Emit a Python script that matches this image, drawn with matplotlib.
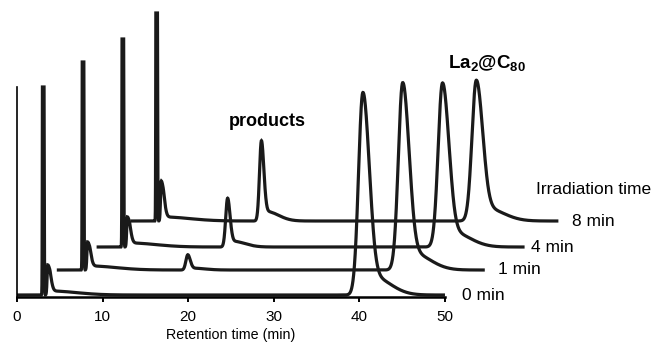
import numpy as np
import matplotlib
matplotlib.use("Agg")
import matplotlib.pyplot as plt

plt.rcParams['font.family'] = ['Liberation Sans', 'DejaVu Sans']
plt.rcParams['mathtext.fontset'] = 'custom'
plt.rcParams['mathtext.bf'] = 'Liberation Sans:bold'
plt.rcParams['mathtext.rm'] = 'Liberation Sans'

# ---- data ----
trace_labels = ['0 min', '1 min', '4 min', '8 min']
x_offsets = [0.0, 4.65, 9.3, 13.25]        # horizontal stagger (min)
y_offsets = [1.0, 13.5, 25.0, 38.0]        # vertical stagger (a.u.)
injection_time = 3.05                      # relative retention time (min)
injection_heights = [104, 104, 104, 104]   # off-scale (clipped) solvent peak
shoulder_time = 3.6
shoulder_heights = [15, 14, 15, 20]
product_time = 15.3
product_heights = [0, 7.5, 24, 39.5]
la_time = 40.4
la_heights = [100, 92.5, 81, 69.5]
run_length = 50.0
x_ticks = [0, 10, 20, 30, 40, 50]


def asym_peak(t, c, h, sl, sr):
    s = np.where(t < c, sl, sr)
    return h * np.exp(-0.5 * ((t - c) / s) ** 2)


def chromatogram(t, i):
    clip = injection_heights[i]
    y = np.minimum(asym_peak(t, injection_time, 6 * clip, 0.045, 0.06), clip)
    y += asym_peak(t, shoulder_time, shoulder_heights[i], 0.08, 0.3)
    y += asym_peak(t, shoulder_time + 0.3, 2.0, 0.1, 3.0)
    ph = product_heights[i]
    y += asym_peak(t, product_time, ph, 0.22, 0.28)
    y += asym_peak(t, product_time + 0.6, 0.12 * ph, 0.3, 1.4)
    lh = la_heights[i]
    y += asym_peak(t, la_time, lh, 0.5, 0.72)
    y += asym_peak(t, la_time + 1.2, 0.09 * lh, 0.6, 2.0)
    return np.minimum(y, clip)


fig = plt.figure(figsize=(6.57, 3.45), dpi=100)
ax = fig.add_axes([0, 0, 1, 1])
ax.set_xlim(-1.986, 74.77)
ax.set_ylim(-24, 148.5)

t = np.linspace(0, run_length, 5001)
for i, lab in enumerate(trace_labels):
    y = chromatogram(t, i)
    ax.plot(t + x_offsets[i], y + y_offsets[i], color='#1a1a1a', lw=2.3,
            solid_joinstyle='miter', solid_capstyle='butt')

# axes styling
for s in ['top', 'right']:
    ax.spines[s].set_visible(False)
ax.spines['bottom'].set_position(('data', 0))
ax.spines['bottom'].set_bounds(0, 50)
ax.spines['bottom'].set_linewidth(1.8)
ax.spines['left'].set_position(('data', 0))
ax.spines['left'].set_bounds(0, 105)
ax.spines['left'].set_linewidth(1.2)
ax.set_yticks([])
ax.set_xticks(x_ticks)
ax.set_xticklabels([str(v) for v in x_ticks])
ax.tick_params(axis='x', direction='out', length=3.6, width=1.4, pad=6,
               labelsize=11)
ax.set_xlabel('Retention time (min)', fontsize=10.3)
ax.xaxis.set_label_coords((25 + 1.986) / (74.77 + 1.986), 0.05)
ax.patch.set_alpha(0)

# annotations
gaps = [2.0, 1.6, 0.7, 1.6]
for i, lab in enumerate(trace_labels):
    end_x = run_length + x_offsets[i]
    ax.text(end_x + gaps[i], y_offsets[i], lab, fontsize=12.5,
            ha='left', va='center')
ax.text(60.6, 54, 'Irradiation time', fontsize=12.5, ha='left', va='center')
ax.text(29.2, 88, 'products', fontsize=13, fontweight='bold',
        ha='center', va='center')
ax.text(50.3, 117, r'$\mathbf{La_2@C_{80}}$', fontsize=13.5,
        ha='left', va='center')

fig.savefig('out.png', dpi=100)
